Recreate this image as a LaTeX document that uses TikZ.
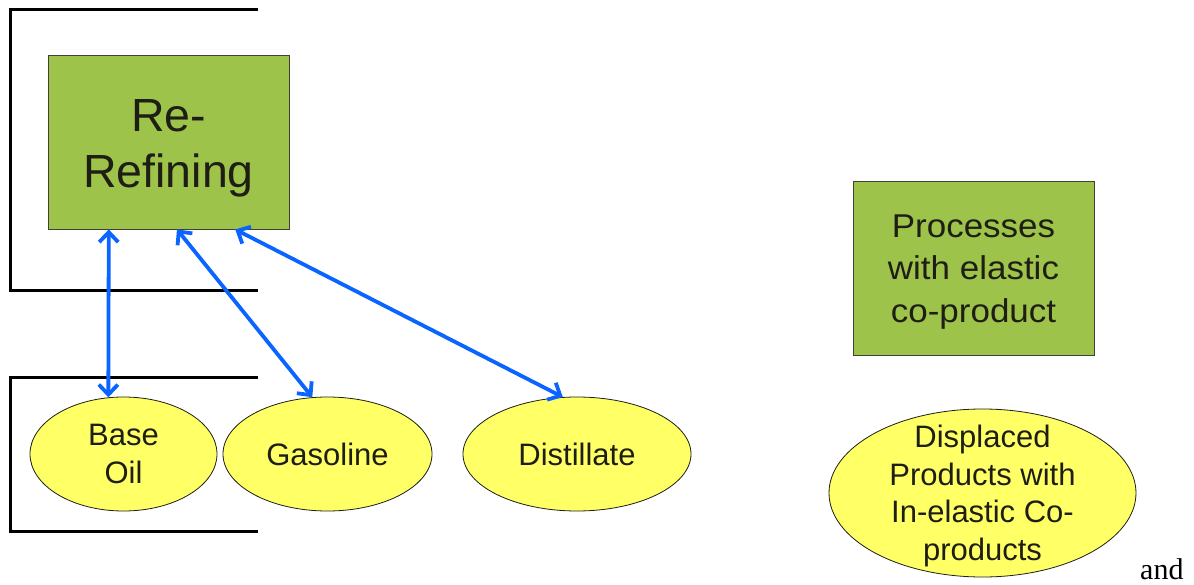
\documentclass[tikz,border=0pt]{standalone}
\usepackage{fontspec}
\setmainfont{Liberation Serif}
\newfontfamily\arial{Liberation Sans}
\newfontfamily\arialwide[FakeStretch=1.06]{Liberation Sans}
\usetikzlibrary{shapes.geometric,arrows.meta,calc}
\definecolor{boxgreen}{HTML}{9DC34A}
\definecolor{ovalyellow}{HTML}{FFFF66}
\definecolor{linkblue}{HTML}{0A64FF}
\definecolor{inkdark}{HTML}{1E1E14}

\begin{document}
\begin{tikzpicture}[x=1pt,y=-1pt,
  procbox/.style={draw=inkdark!85, line width=0.8pt, fill=boxgreen,
    inner sep=0pt, minimum width=241pt, minimum height=174pt},
  proctext/.style={text=inkdark, align=center, inner sep=0pt},
  prodoval/.style={ellipse, draw=inkdark, line width=0.8pt, fill=ovalyellow, text=inkdark,
    align=center, inner sep=0pt, font=\arial\fontsize{31}{37.5}\selectfont},
  bracket/.style={line width=3pt},
  link/.style={draw=linkblue, line width=3.8pt,
    {Straight Barb[length=10pt,width=19pt]}-{Straight Barb[length=10pt,width=19pt]}}
]
\useasboundingbox (0,0) rectangle (1194,585);

% open brackets around the process and the base oil
\draw[bracket] (258,10) -- (10,10) -- (10,291) -- (258,291);
\draw[bracket] (258,377) -- (10,377) -- (10,531) -- (258,531);

% processes
\node[procbox] (rr) at (168.5,142) {};
\node[proctext, font=\arial\fontsize{46.5}{56}\selectfont] (rrlabel)
  at ([yshift=-6pt]rr.center) {Re-\\Refining};
\node[procbox] (pe) at (973.5,268) {};
\node[proctext, font=\arialwide\fontsize{33}{42.5}\selectfont] (pelabel)
  at ([yshift=-4pt]pe.center) {Processes\\with elastic\\co-product};

% products
\node[prodoval, minimum width=187pt, minimum height=114pt] (bo) at (123.5,454) {Base\\Oil};
\node[prodoval, minimum width=209pt, minimum height=114pt] (ga) at (327.5,454) {Gasoline};
\node[prodoval, minimum width=228pt, minimum height=114pt] (di) at (577,454) {Distillate};
\node[prodoval, minimum width=307pt, minimum height=168pt] (dp) at (982.5,493) {};
\node[proctext, font=\arial\fontsize{31}{37.5}\selectfont] (dplabel)
  at ([yshift=-3pt]dp.center) {Displaced\\Products with\\In-elastic Co-\\products};

\node[anchor=base west, inner sep=0pt, font=\fontsize{30}{36}\selectfont] (and) at (1140,579) {and};

% flows between re-refining and its products
\draw[link] ($(rr.south west)!0.253!(rr.south east)$) -- (bo.105);
\draw[link] ($(rr.south west)!0.535!(rr.south east)$) -- (ga.105);
\draw[link] ($(rr.south west)!0.776!(rr.south east)$) -- (di.104);
\end{tikzpicture}
\end{document}
